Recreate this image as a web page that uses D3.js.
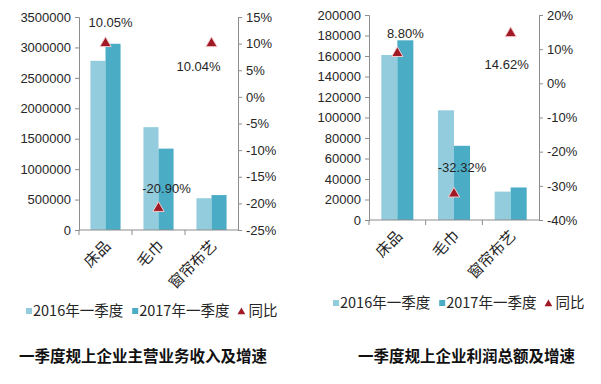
<!DOCTYPE html>
<html>
<head>
<meta charset="utf-8">
<script src="https://cdn.jsdelivr.net/npm/d3@7"></script>
<style>
  body { margin: 0; background: #fff; }
  text { font-family: "Liberation Sans", Arial, sans-serif; fill: #262626; }
  .cjk { font-family: "Noto Sans CJK SC", sans-serif; }
  .domain, .tick line { stroke: #8c8c8c; }
</style>
</head>
<body>
<div id="chart"></div>
<script>
var categories = ["床品", "毛巾", "窗帘布艺"];
var seriesNames = ["2016年一季度", "2017年一季度", "同比"];

var revenue2016 = [2780000, 1690000, 522000];
var revenue2017 = [3060000, 1337000, 574000];
var revenueGrowth = [10.05, -20.90, 10.04];

var profit2016 = [161000, 107000, 27700];
var profit2017 = [175300, 72400, 31750];
var profitGrowth = [8.80, -32.32, 14.62];

var titles = ["一季度规上企业主营业务收入及增速", "一季度规上企业利润总额及增速"];

var colors = ["#93cddd", "#4bacc6", "#a01a25"];

var svg = d3.select("#chart")
    .append("svg")
        .attr("width", 601)
        .attr("height", 384);

function panel(opt) {
    var g = svg.append("g");

    var x = d3.scaleBand()
        .domain(categories)
        .range([opt.left, opt.right]);

    var xs = d3.scaleBand()
        .domain([0, 1])
        .range([0, x.bandwidth()])
        .paddingOuter(opt.pad);

    var y = d3.scaleLinear()
        .domain(opt.yDomain)
        .range([opt.bottom, opt.top]);

    var y2 = d3.scaleLinear()
        .domain(opt.y2Domain)
        .range([opt.bottom, opt.top]);

    // left axis
    var ya = g.append("g")
        .attr("transform", "translate(" + opt.left + ",0)")
        .call(d3.axisLeft(y).tickValues(d3.range(opt.yDomain[0], opt.yDomain[1] + 1, opt.yStep))
            .tickFormat(d3.format("d")).tickSizeOuter(0).tickSize(4).tickPadding(4));
    ya.selectAll("text").style("font-size", "13px");

    // right axis
    var y2a = g.append("g")
        .attr("transform", "translate(" + opt.right + ",0)")
        .call(d3.axisRight(y2).tickValues(d3.range(opt.y2Domain[0], opt.y2Domain[1] + 1, opt.y2Step))
            .tickFormat(function(d) { return d + "%"; }).tickSizeOuter(0).tickSize(4).tickPadding(4));
    y2a.selectAll("text").style("font-size", "13px");

    // bars
    var series = [opt.s2016, opt.s2017];
    series.forEach(function(vals, si) {
        g.selectAll(".bar" + si)
            .data(vals)
            .enter().append("rect")
            .attr("x", function(d, i) { return x(categories[i]) + xs(si); })
            .attr("y", function(d) { return y(d); })
            .attr("width", xs.bandwidth())
            .attr("height", function(d) { return opt.bottom - y(d); })
            .attr("fill", colors[si]);
    });

    // x axis
    var xa = g.append("g")
        .attr("transform", "translate(0," + opt.bottom + ")");
    xa.append("line")
        .attr("class", "domain")
        .attr("x1", opt.left).attr("x2", opt.right);
    xa.selectAll(".sep")
        .data(categories)
        .enter().append("line")
        .attr("class", "domain")
        .attr("x1", function(d) { return x(d); })
        .attr("x2", function(d) { return x(d); })
        .attr("y1", 0).attr("y2", 5);
    xa.selectAll(".cat")
        .data(categories)
        .enter().append("text")
        .attr("class", "cjk")
        .attr("text-anchor", "end")
        .style("font-size", "15px")
        .attr("transform", function(d) {
            return "translate(" + (x(d) + x.bandwidth() / 2 + 6) + ",17) rotate(-45)";
        })
        .text(function(d) { return d; });

    // growth markers
    var tri = d3.symbol().type(d3.symbolTriangle).size(55);
    g.selectAll(".tri")
        .data(opt.growth)
        .enter().append("path")
        .attr("d", tri)
        .attr("transform", function(d, i) {
            return "translate(" + (x(categories[i]) + x.bandwidth() / 2) + "," + y2(d) + ")";
        })
        .attr("fill", colors[2])
        .attr("stroke", "#f2c9cc")
        .attr("stroke-width", 1);

    g.selectAll(".lbl")
        .data(opt.growth)
        .enter().append("text")
        .attr("text-anchor", "middle")
        .attr("dy", "0.35em")
        .style("font-size", "13px")
        .attr("x", function(d, i) { return x(categories[i]) + x.bandwidth() / 2 + opt.labelOffsets[i][0]; })
        .attr("y", function(d, i) { return y2(d) + opt.labelOffsets[i][1]; })
        .text(function(d) { return d.toFixed(2) + "%"; });

    // legend
    var lg = g.append("g")
        .attr("transform", "translate(" + opt.legendX + "," + opt.legendY + ")");
    var lx = 0;
    seriesNames.forEach(function(name, i) {
        if (i < 2) {
            lg.append("rect")
                .attr("x", lx).attr("y", -3)
                .attr("width", 6).attr("height", 6)
                .attr("fill", colors[i]);
        } else {
            lg.append("path")
                .attr("d", d3.symbol().type(d3.symbolTriangle).size(26))
                .attr("transform", "translate(" + (lx + 3) + ",1)")
                .attr("fill", colors[2]);
        }
        var t = lg.append("text")
            .attr("class", "cjk")
            .attr("x", lx + (i < 2 ? 7 : 10))
            .attr("dy", "0.35em")
            .style("font-size", "14.5px")
            .text(name);
        lx += (i < 2 ? 7 : 10) + t.node().getComputedTextLength() + 9;
    });

    // title
    g.append("text")
        .attr("class", "cjk")
        .attr("x", opt.titleX)
        .attr("y", 357)
        .attr("dy", "0.35em")
        .style("font-size", "15.5px")
        .style("font-weight", "bold")
        .style("fill", "#111")
        .text(opt.title);
}

panel({
    left: 79, right: 238, top: 17, bottom: 230,
    yDomain: [0, 3500000], yStep: 500000,
    y2Domain: [-25, 15], y2Step: 5,
    pad: 0.76,
    s2016: revenue2016, s2017: revenue2017, growth: revenueGrowth,
    labelOffsets: [[5, -21], [8, -20], [-13, 23]],
    legendX: 26, legendY: 311,
    title: titles[0], titleX: 19
});

panel({
    left: 369, right: 539, top: 15, bottom: 220,
    yDomain: [0, 200000], yStep: 20000,
    y2Domain: [-40, 20], y2Step: 10,
    pad: 0.77,
    s2016: profit2016, s2017: profit2017, growth: profitGrowth,
    labelOffsets: [[8, -20], [8, -26], [-4, 31]],
    legendX: 333, legendY: 303,
    title: titles[1], titleX: 358
});
</script>
</body>
</html>
